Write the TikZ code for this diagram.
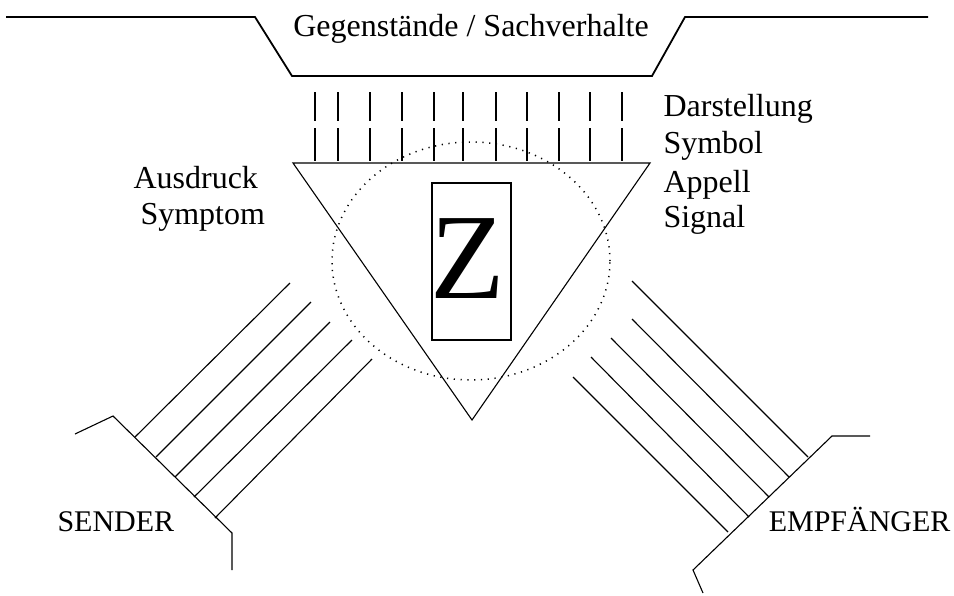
\documentclass[tikz,border=0pt]{standalone}
\usepackage{fontspec}
\setmainfont{Liberation Serif}
\begin{document}
\begin{tikzpicture}[x=0.5pt,y=-0.5pt,line width=0.55pt,
  lab/.style={font=\fontsize{16}{19}\selectfont,inner sep=0pt},
  caplab/.style={font=\fontsize{15}{18}\selectfont,inner sep=0pt},
  ring/.style={dash pattern=on 0.6pt off 2.8pt,line width=0.75pt}]
\useasboundingbox (0,0) rectangle (954,595);

% things and states of affairs
\draw[line width=0.9pt] (6,17) -- (255,17) -- (292,76) -- (652,76) -- (685,17) -- (928,17);
\node[lab,anchor=base] (obj) at (471,36) {Gegenstände / Sachverhalte};

% representation rays
\foreach \x in {315,338,370,402,434,463,496,527,559,590,622}{
  \draw (\x,92) -- (\x,121);
  \draw (\x,128) -- (\x,161);
}

% dotted circle
\draw[ring] (471,261) ellipse [x radius=69.5pt,y radius=59.5pt];

% sign triangle
\coordinate (tl) at (293,163);
\coordinate (tr) at (650,163);
\coordinate (apex) at (472,420);
\draw (tl) -- (tr) -- (apex) -- cycle;

% sign box
\node[draw,minimum width=39.5pt,minimum height=78.5pt,inner sep=0pt] (zbox) at (471.5,261.5) {};
\node[font=\fontsize{61}{61}\selectfont,anchor=base,inner sep=0pt] (z) at (468,298) {Z};

% function labels
\node[lab,anchor=base west] (dar) at (663,116) {Darstellung};
\node[lab,anchor=base west] (sym) at (663,153) {Symbol};
\node[lab,anchor=base west] (app) at (663,192) {Appell};
\node[lab,anchor=base west] (sig) at (663,227) {Signal};
\node[lab,anchor=base west] (aus) at (133,188) {Ausdruck};
\node[lab,anchor=base west] (spt) at (140,224) {Symptom};

% sender
\foreach \xa/\ya/\xb/\yb in {290/283/135/437, 311/302/156/457,
    330/322/175/477, 352/340/194/497, 372/359/215/518}{
  \draw (\xa,\ya) -- (\xb,\yb);
}
\draw (75,434) -- (113,416) -- (232,533) -- (232,570);
\node[caplab,anchor=base west] (snd) at (57,531) {SENDER};

% receiver
\foreach \xa/\ya/\xb/\yb in {632/281/808/457, 632/319/789/477,
    611/338/769/497, 591/357/749/517, 573/377/728/532}{
  \draw (\xa,\ya) -- (\xb,\yb);
}
\draw (870,436) -- (832,436) -- (693,570) -- (703,593);
\node[caplab,anchor=base east] (emp) at (951,531) {EMPFÄNGER};

\end{tikzpicture}
\end{document}
